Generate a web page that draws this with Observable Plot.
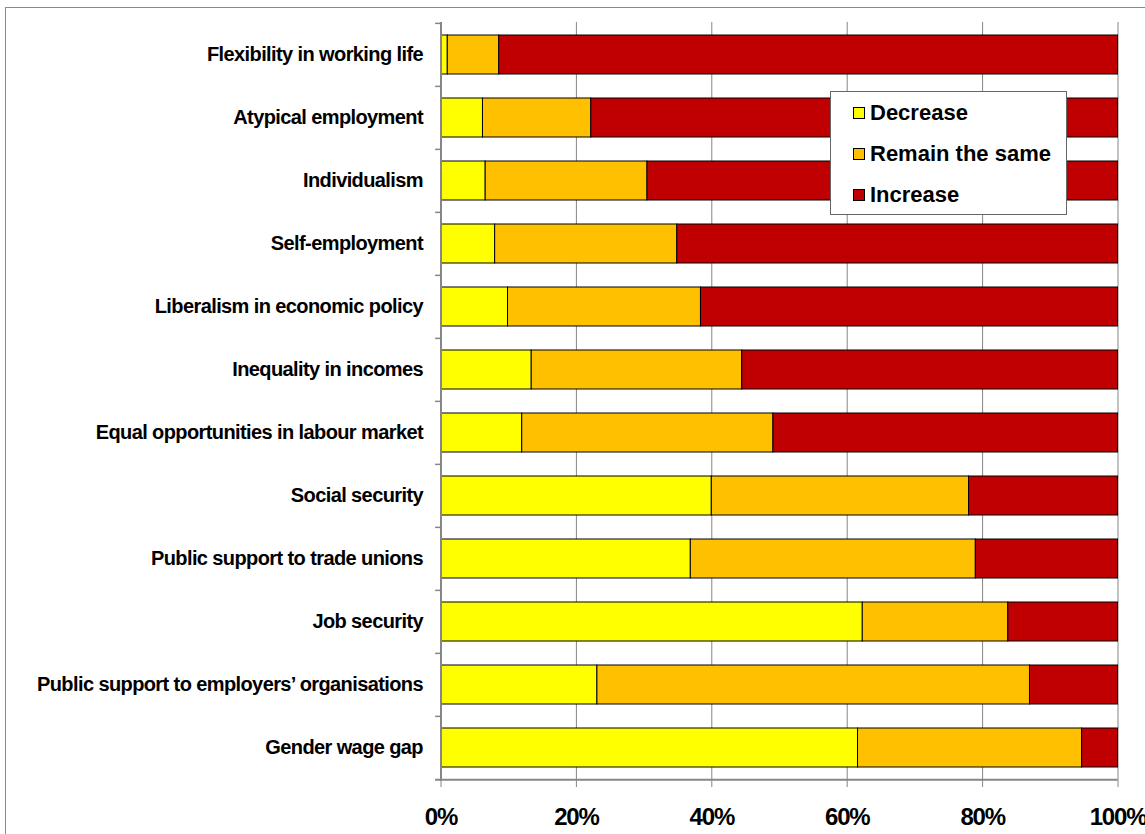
<!DOCTYPE html>
<html>
<head>
<meta charset="utf-8">
<script src="https://cdn.jsdelivr.net/npm/d3@7"></script>
<script src="https://cdn.jsdelivr.net/npm/@observablehq/plot@0.6"></script>
<style>
  html, body { margin: 0; padding: 0; background: #fff; overflow: hidden; }
  #wrap { position: relative; width: 1145px; height: 834px; overflow: hidden; }
  #frame { position: absolute; left: 5px; top: 7px; width: 1300px; height: 1000px; border: 1.5px solid #8a8a8a; box-sizing: border-box; }
  #chart { position: absolute; left: 0; top: 0; }
  #chart g[aria-label="y-axis tick label"] text { letter-spacing: -0.6px; }
  #chart g[aria-label="x-axis tick label"] text { letter-spacing: -1.2px; }
  #legend { position: absolute; left: 830px; top: 91px; width: 237px; height: 124px; background: #fff; border: 1.5px solid #666; box-sizing: border-box; font-family: "Liberation Sans", Arial, sans-serif; font-weight: bold; font-size: 22px; color: #000; }
  .item { position: absolute; left: 22px; display: flex; align-items: center; white-space: nowrap; }
  .sw { width: 10px; height: 10px; border: 1px solid #000; margin-right: 5px; }
</style>
</head>
<body>
<div id="wrap">
  <div id="frame"></div>
  <div id="chart"></div>
  <div id="legend"></div>
</div>
<script>
const categories = [
  "Flexibility in working life",
  "Atypical employment",
  "Individualism",
  "Self-employment",
  "Liberalism in economic policy",
  "Inequality in incomes",
  "Equal opportunities in labour market",
  "Social security",
  "Public support to trade unions",
  "Job security",
  "Public support to employers\u2019 organisations",
  "Gender wage gap"
];
const seriesNames = ["Decrease", "Remain the same", "Increase"];
const seriesColors = ["#FFFF00", "#FFC000", "#C00000"];
const decrease = [1.0, 6.2, 6.6, 8.0, 9.9, 13.4, 12.0, 40.0, 36.9, 62.3, 23.1, 61.6];
const remain   = [7.6, 16.0, 23.9, 26.9, 28.5, 31.1, 37.1, 38.0, 42.1, 21.5, 63.9, 33.1];
const increase = [91.4, 77.8, 69.5, 65.1, 61.6, 55.5, 50.9, 22.0, 21.0, 16.2, 13.0, 5.3];
const xTicks = [0, 20, 40, 60, 80, 100];

const seriesValues = [decrease, remain, increase];
const table = [];
seriesNames.forEach((s, si) => {
  categories.forEach((c, ci) => table.push({category: c, series: s, value: seriesValues[si][ci]}));
});

const gray = "#868686";
const marginTop = 22, marginBottom = 53, height = 834;
const step = (height - marginTop - marginBottom) / categories.length;

const chart = Plot.plot({
  width: 1145,
  height,
  marginLeft: 440.5,
  marginRight: 27.5,
  marginTop,
  marginBottom,
  style: {fontFamily: "'Liberation Sans', Arial, sans-serif", background: "transparent", color: "#000"},
  x: {domain: [0, 100], axis: null, label: null},
  y: {domain: categories, paddingInner: 0.38, paddingOuter: 0.19, axis: null, label: null},
  color: {domain: seriesNames, range: seriesColors},
  marks: [
    Plot.ruleX(xTicks.filter(d => d > 0), {stroke: gray, strokeWidth: 1}),
    Plot.barX(table, {x: "value", y: "category", fill: "series", stroke: "#000", strokeWidth: 1}),
    Plot.ruleX([0], {stroke: gray, strokeWidth: 2}),
    Plot.ruleY(categories, {y: d => d, x1: -0.8, x2: 0, dy: -step / 2, stroke: gray, strokeWidth: 1.5}),
    Plot.ruleY([categories[categories.length - 1]], {y: d => d, x1: -0.8, x2: 100, dy: step / 2, stroke: gray, strokeWidth: 2}),
    Plot.axisX({ticks: xTicks, tickFormat: d => d + "%", tickSize: 6, tickPadding: 20, fontSize: 24, fontWeight: "bold", stroke: gray, label: null}),
    Plot.axisY({tickSize: 0, tickPadding: 18, fontSize: 20, fontWeight: "bold", label: null})
  ]
});
document.getElementById("chart").appendChild(chart);

const legend = document.getElementById("legend");
seriesNames.forEach((s, i) => {
  const item = document.createElement("div");
  item.className = "item";
  item.style.top = (8 + i * 41) + "px";
  const sw = document.createElement("div");
  sw.className = "sw";
  sw.style.background = seriesColors[i];
  const t = document.createElement("span");
  t.textContent = s;
  item.appendChild(sw);
  item.appendChild(t);
  legend.appendChild(item);
});
</script>
</body>
</html>
